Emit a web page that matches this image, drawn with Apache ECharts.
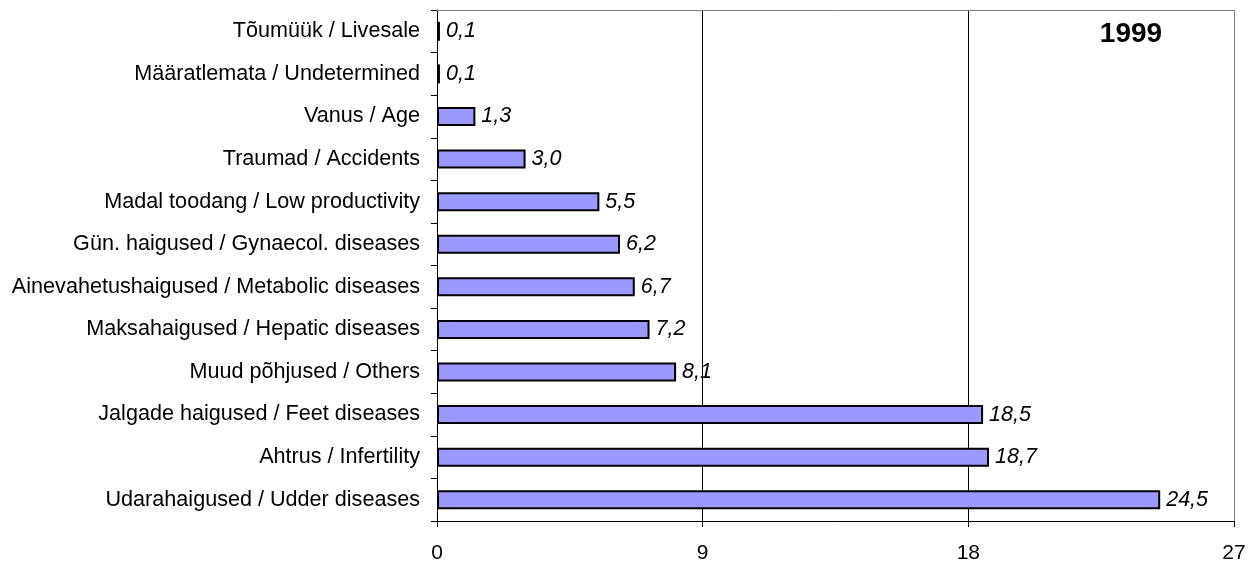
<!DOCTYPE html>
<html>
<head>
<meta charset="utf-8">
<script src="https://cdn.jsdelivr.net/npm/echarts@6/dist/echarts.min.js"></script>
<style>
  html, body { margin: 0; padding: 0; background: #fff; }
  #chart { width: 1260px; height: 568px; }
</style>
</head>
<body>
<div id="chart"></div>
<script>
// Culling reasons of dairy cows, %, listed from top to bottom
const categories = [
  'Tõumüük / Livesale',
  'Määratlemata / Undetermined',
  'Vanus / Age',
  'Traumad / Accidents',
  'Madal toodang / Low productivity',
  'Gün. haigused / Gynaecol. diseases',
  'Ainevahetushaigused / Metabolic diseases',
  'Maksahaigused / Hepatic diseases',
  'Muud põhjused / Others',
  'Jalgade haigused / Feet diseases',
  'Ahtrus / Infertility',
  'Udarahaigused / Udder diseases'
];
const values = [0.1, 0.1, 1.3, 3.0, 5.5, 6.2, 6.7, 7.2, 8.1, 18.5, 18.7, 24.5];
const yearTitle = '1999';
const xTicks = { min: 0, max: 27, interval: 9 };

const fmt = v => v.toFixed(1).replace('.', ',');
const font = 'Liberation Sans, Arial, sans-serif';

const chart = echarts.init(document.getElementById('chart'), null, { renderer: 'canvas' });
chart.setOption({
  animation: false,
  backgroundColor: '#ffffff',
  grid: { left: 437, right: 26, top: 10, bottom: 47, containLabel: false },
  xAxis: {
    type: 'value',
    min: xTicks.min, max: xTicks.max, interval: xTicks.interval,
    axisLine: { show: true, lineStyle: { color: '#000', width: 1 } },
    axisTick: { show: true, length: 6, lineStyle: { color: '#000' } },
    axisLabel: { color: '#000', fontSize: 21, fontFamily: font, margin: 22 },
    splitLine: { show: true, lineStyle: { color: '#000', width: 1 } }
  },
  yAxis: {
    type: 'category',
    inverse: true,
    data: categories,
    axisLine: { show: true, lineStyle: { color: '#000', width: 1 } },
    axisTick: { show: true, length: 6, lineStyle: { color: '#000' } },
    axisLabel: { color: '#000', fontSize: 21.6, fontFamily: font, margin: 17 },
    splitLine: { show: false }
  },
  graphic: [
    {
      type: 'line',
      shape: { x1: 437, y1: 10.5, x2: 1234.5, y2: 10.5 },
      style: { stroke: '#808080', lineWidth: 1 }, z: 1
    },
    {
      type: 'line',
      shape: { x1: 1234.5, y1: 10, x2: 1234.5, y2: 521 },
      style: { stroke: '#808080', lineWidth: 1 }, z: 1
    },
    {
      type: 'text',
      x: 1131, y: 34,
      style: {
        text: yearTitle, font: 'bold 28px ' + font, fill: '#000',
        textAlign: 'center', textVerticalAlign: 'middle'
      }
    }
  ],
  series: [{
    type: 'bar',
    data: values,
    barWidth: 19,
    itemStyle: { color: '#9999ff', borderColor: '#000', borderWidth: 2 },
    label: {
      show: true,
      position: 'right',
      distance: 6,
      formatter: p => fmt(p.value),
      color: '#000',
      fontSize: 21.5,
      fontStyle: 'italic',
      fontFamily: font
    }
  }]
});
</script>
</body>
</html>
